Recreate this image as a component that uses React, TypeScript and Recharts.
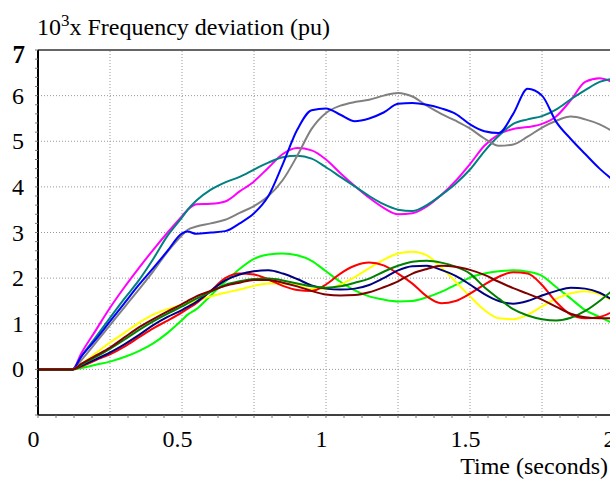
import { LineChart, Line, XAxis, YAxis, ReferenceLine } from 'recharts';

const time = [0, 0.05, 0.1, 0.12, 0.15, 0.2, 0.25, 0.3, 0.35, 0.4, 0.45, 0.5, 0.52, 0.55, 0.6, 0.65, 0.7, 0.75, 0.8, 0.85, 0.9, 0.95, 1.0, 1.05, 1.1, 1.15, 1.2, 1.25, 1.3, 1.35, 1.4, 1.45, 1.5, 1.55, 1.6, 1.65, 1.7, 1.75, 1.8, 1.85, 1.9, 1.95, 2.0];

const magenta = [0, 0, 0, 0, 0.35, 0.85, 1.35, 1.8, 2.22, 2.62, 3.0, 3.36, 3.5, 3.62, 3.63, 3.68, 3.9, 4.12, 4.42, 4.72, 4.85, 4.8, 4.6, 4.3, 4.02, 3.76, 3.54, 3.4, 3.42, 3.57, 3.82, 4.13, 4.5, 4.9, 5.15, 5.27, 5.31, 5.38, 5.55, 5.9, 6.3, 6.38, 6.28];
const teal = [0, 0, 0, 0, 0.28, 0.7, 1.13, 1.55, 1.95, 2.42, 2.93, 3.33, 3.5, 3.7, 3.94, 4.1, 4.22, 4.38, 4.53, 4.65, 4.68, 4.62, 4.43, 4.22, 4.01, 3.8, 3.62, 3.5, 3.47, 3.6, 3.82, 4.07, 4.38, 4.78, 5.12, 5.38, 5.48, 5.55, 5.7, 5.92, 6.12, 6.3, 6.37];
const gray = [0, 0, 0, 0, 0.2, 0.58, 0.97, 1.36, 1.75, 2.15, 2.58, 2.94, 3.06, 3.13, 3.2, 3.28, 3.43, 3.58, 3.8, 4.15, 4.68, 5.27, 5.62, 5.78, 5.86, 5.91, 6.0, 6.06, 5.98, 5.78, 5.6, 5.45, 5.28, 5.06, 4.9, 4.93, 5.1, 5.3, 5.45, 5.54, 5.48, 5.37, 5.2];
const blue = [0, 0, 0, 0, 0.28, 0.65, 1.05, 1.45, 1.85, 2.22, 2.6, 2.98, 3.02, 2.97, 3.0, 3.03, 3.2, 3.42, 3.8, 4.5, 5.25, 5.68, 5.72, 5.58, 5.44, 5.5, 5.63, 5.82, 5.84, 5.8, 5.72, 5.6, 5.37, 5.22, 5.18, 5.6, 6.15, 6.0, 5.42, 5.05, 4.72, 4.4, 4.13];
const lime = [0, 0, 0, 0, 0.03, 0.1, 0.17, 0.27, 0.4, 0.57, 0.8, 1.08, 1.2, 1.32, 1.62, 1.92, 2.2, 2.42, 2.52, 2.54, 2.5, 2.38, 2.15, 1.92, 1.73, 1.6, 1.53, 1.49, 1.5, 1.58, 1.7, 1.85, 2.01, 2.1, 2.15, 2.17, 2.14, 2.05, 1.8, 1.55, 1.3, 1.15, 1.0];
const yellow = [0, 0, 0, 0, 0.12, 0.35, 0.59, 0.8, 1.02, 1.2, 1.32, 1.41, 1.44, 1.5, 1.6, 1.68, 1.75, 1.83, 1.88, 1.88, 1.84, 1.76, 1.76, 1.86, 2.02, 2.22, 2.4, 2.54, 2.58, 2.5, 2.24, 1.92, 1.6, 1.3, 1.12, 1.1, 1.2, 1.38, 1.55, 1.67, 1.71, 1.65, 1.48];
const red = [0, 0, 0, 0, 0.06, 0.2, 0.33, 0.5, 0.7, 0.9, 1.07, 1.25, 1.33, 1.45, 1.72, 2.0, 2.1, 2.08, 1.97, 1.83, 1.74, 1.72, 1.86, 2.1, 2.27, 2.34, 2.28, 2.1, 1.88, 1.6, 1.45, 1.5, 1.66, 1.86, 2.03, 2.13, 2.1, 1.85, 1.47, 1.2, 1.12, 1.15, 1.28];
const navy = [0, 0, 0, 0, 0.08, 0.22, 0.37, 0.55, 0.75, 0.97, 1.15, 1.3, 1.37, 1.48, 1.72, 1.95, 2.08, 2.15, 2.17, 2.1, 1.98, 1.84, 1.77, 1.75, 1.77, 1.85, 2.0, 2.17, 2.26, 2.27, 2.18, 2.05, 1.86, 1.65, 1.5, 1.44, 1.5, 1.62, 1.72, 1.79, 1.77, 1.68, 1.5];
const darkGreen = [0, 0, 0, 0, 0.1, 0.27, 0.45, 0.65, 0.86, 1.05, 1.22, 1.38, 1.45, 1.55, 1.7, 1.85, 1.93, 1.98, 1.99, 1.95, 1.88, 1.82, 1.79, 1.82, 1.9, 1.99, 2.14, 2.27, 2.36, 2.38, 2.34, 2.25, 2.1, 1.8, 1.55, 1.32, 1.18, 1.1, 1.07, 1.13, 1.28, 1.5, 1.76];
const maroon = [0, 0, 0, 0, 0.12, 0.3, 0.48, 0.7, 0.92, 1.1, 1.27, 1.43, 1.5, 1.6, 1.72, 1.83, 1.9, 1.96, 1.96, 1.9, 1.82, 1.72, 1.64, 1.62, 1.63, 1.69, 1.8, 1.93, 2.1, 2.2, 2.27, 2.25, 2.18, 2.07, 1.92, 1.78, 1.66, 1.53, 1.37, 1.22, 1.14, 1.12, 1.12];

const series = [
  { key: 'magenta', values: magenta, color: '#ff00ff' },
  { key: 'teal', values: teal, color: '#008080' },
  { key: 'gray', values: gray, color: '#808080' },
  { key: 'blue', values: blue, color: '#0000ff' },
  { key: 'lime', values: lime, color: '#00ff00' },
  { key: 'yellow', values: yellow, color: '#ffff00' },
  { key: 'red', values: red, color: '#ff0000' },
  { key: 'navy', values: navy, color: '#000080' },
  { key: 'darkGreen', values: darkGreen, color: '#008000' },
  { key: 'maroon', values: maroon, color: '#800000' },
];

const xLabels = [0, 0.5, 1, 1.5, 2];
const xGrid = [0.25, 0.5, 0.75, 1, 1.25, 1.5, 1.75];
const yLabels = [0, 1, 2, 3, 4, 5, 6, 7];
const yGrid = [0, 1, 2, 3, 4, 5, 6];

// minor ticks: 16 per unit on x, 5 per unit on y
const xMinorTicks = Array.from({ length: 33 }, (_, i) => i / 16);
const yMinorTicks = Array.from({ length: 41 }, (_, i) => Math.round((-1 + i * 0.2) * 10) / 10);

const data = time.map((t, i) => {
  const row: Record<string, number> = { t };
  series.forEach((s) => {
    row[s.key] = s.values[i];
  });
  return row;
});

const FONT = "'Liberation Serif', 'Times New Roman', serif";

function XTick(props: any) {
  const { x, payload } = props;
  if (!xLabels.includes(payload.value)) return <g />;
  return (
    <text x={x - 4.5} y={447} textAnchor="middle" fontSize={24} fontFamily={FONT} fill="#000">
      {String(payload.value)}
    </text>
  );
}

function YTick(props: any) {
  const { y, payload } = props;
  const v = payload.value;
  if (!yLabels.includes(v)) return <g />;
  const top = v === 7;
  return (
    <text
      x={top ? 25 : 24}
      y={y + (top ? 13 : 8)}
      textAnchor="end"
      fontSize={top ? 25 : 24}
      fontWeight={top ? 'bold' : 'normal'}
      fontFamily={FONT}
      fill="#000"
    >
      {String(v)}
    </text>
  );
}

export default function App() {
  return (
    <div
      style={{
        position: 'absolute',
        left: 0,
        top: 0,
        width: 610,
        height: 479,
        overflow: 'hidden',
        background: '#fff',
      }}
    >
      <LineChart width={630} height={479} data={data} margin={{ top: 50, right: 16, bottom: 0, left: 0 }}>
        {xGrid.map((v) => (
          <ReferenceLine key={'x' + v} x={v} stroke="#999" strokeDasharray="1 2" />
        ))}
        {yGrid.map((v) => (
          <ReferenceLine key={'y' + v} y={v} stroke="#999" strokeDasharray="1 2" />
        ))}
        <ReferenceLine y={7} stroke="#666" strokeWidth={2} />
        <XAxis
          dataKey="t"
          type="number"
          domain={[0, 2]}
          ticks={xMinorTicks}
          interval={0}
          height={64}
          tickSize={3}
          allowDataOverflow
          axisLine={{ stroke: '#000', strokeWidth: 1.5 }}
          tickLine={{ stroke: '#777' }}
          tick={<XTick />}
        />
        <YAxis
          type="number"
          domain={[-1, 7]}
          ticks={yMinorTicks}
          interval={0}
          width={38}
          tickSize={3}
          allowDataOverflow
          axisLine={{ stroke: '#000', strokeWidth: 2 }}
          tickLine={{ stroke: '#777' }}
          tick={<YTick />}
        />
        {series.map((s) => (
          <Line
            key={s.key}
            type="monotone"
            dataKey={s.key}
            stroke={s.color}
            strokeWidth={2}
            dot={false}
            activeDot={false}
            isAnimationActive={false}
          />
        ))}
      </LineChart>
      <svg width={610} height={479} style={{ position: 'absolute', left: 0, top: 0, pointerEvents: 'none' }}>
        <text x={37} y={35} fontSize={24} fontFamily={FONT} fill="#000">
          10
          <tspan dy={-9} fontSize={17}>3</tspan>
          <tspan dy={9} fontSize={24}>x Frequency deviation (pu)</tspan>
        </text>
        <text x={608} y={474} textAnchor="end" fontSize={24} fontFamily={FONT} fill="#000">
          Time (seconds)
        </text>
      </svg>
    </div>
  );
}
